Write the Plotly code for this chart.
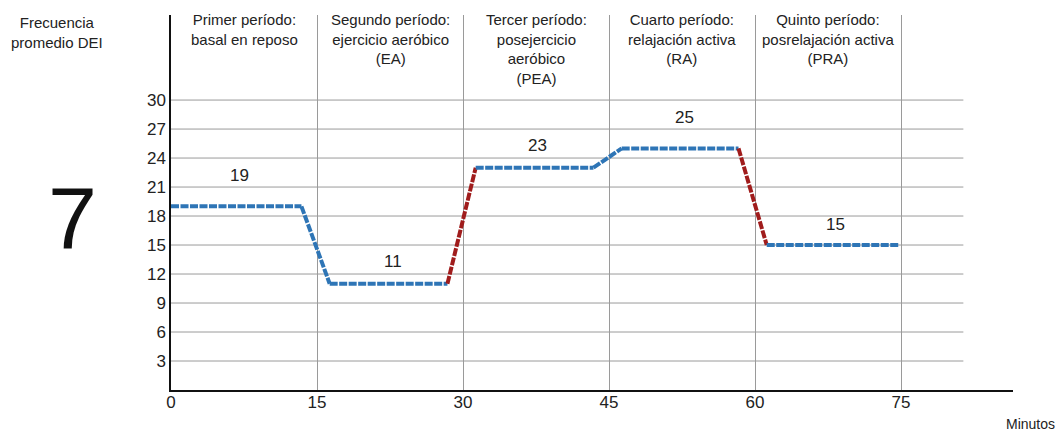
import plotly.graph_objects as go

# Data
tiempo = [0, 13.4, 16.3, 28.4, 31.3, 43.4, 46.3, 58.3, 61.2, 74.8]
frecuencia = [19, 19, 11, 11, 23, 23, 25, 25, 15, 15]
segmento_rojo = [False, False, False, True, False, False, False, True, False]

etiquetas_valor = ["19", "11", "23", "25", "15"]
etiquetas_x = [7.0, 22.8, 37.7, 52.8, 68.3]
etiquetas_y = [22.2, 13.3, 25.3, 28.2, 17.1]

periodos = [
    "Primer período:<br>basal en reposo",
    "Segundo período:<br>ejercicio aeróbico<br>(EA)",
    "Tercer período:<br>posejercicio<br>aeróbico<br>(PEA)",
    "Cuarto período:<br>relajación activa<br>(RA)",
    "Quinto período:<br>posrelajación activa<br>(PRA)",
]
periodo_centro = [7.5, 22.5, 37.5, 52.5, 67.5]

x_ticks = [0, 15, 30, 45, 60, 75]
y_ticks = [3, 6, 9, 12, 15, 18, 21, 24, 27, 30]

AZUL = "#2E75B6"
ROJO = "#A01C1C"
FONT = "Liberation Sans, Arial, sans-serif"

W, H = 1060, 432
ml, mr, mt, mb = 171, 47, 15, 42
pw, ph = W - ml - mr, H - mt - mb


def px_x(px):
    return (px - ml) / pw


def px_y(py):
    return (H - mb - py) / ph


fig = go.Figure()

for i in range(len(tiempo) - 1):
    fig.add_trace(go.Scatter(
        x=[tiempo[i], tiempo[i + 1]],
        y=[frecuencia[i], frecuencia[i + 1]],
        mode="lines",
        line=dict(color=ROJO if segmento_rojo[i] else AZUL, width=4, dash="8px,1.5px"),
        showlegend=False,
        hoverinfo="skip",
    ))

for t, xv, yv in zip(etiquetas_valor, etiquetas_x, etiquetas_y):
    fig.add_annotation(x=xv, y=yv, text=t, showarrow=False,
                       xanchor="center", yanchor="middle",
                       font=dict(size=17, color="#222", family=FONT))

for t, xv in zip(periodos, periodo_centro):
    fig.add_annotation(x=xv, xref="x", y=px_y(9), yref="paper",
                       xanchor="center", yanchor="top",
                       text=t, showarrow=False, align="center",
                       font=dict(size=15, color="#222", family=FONT))

# horizontal gridlines stop short of the axis end
for yv in y_ticks:
    fig.add_shape(type="line", x0=0, x1=81.4, y0=yv, y1=yv, xref="x", yref="y",
                  line=dict(color="#9a9a9a", width=1), layer="below")

fig.add_annotation(x=px_x(57), y=px_y(32), xref="paper", yref="paper",
                   xanchor="center", yanchor="middle",
                   text="Frecuencia<br>promedio DEI", showarrow=False, align="center",
                   font=dict(size=15, color="#222", family=FONT))
fig.add_annotation(x=px_x(72), y=px_y(218), xref="paper", yref="paper",
                   xanchor="center", yanchor="middle",
                   text="7", showarrow=False,
                   font=dict(size=88, color="#111", family=FONT))
fig.add_annotation(x=px_x(1030), y=px_y(424), xref="paper", yref="paper",
                   xanchor="center", yanchor="middle",
                   text="Minutos", showarrow=False,
                   font=dict(size=14, color="#222", family=FONT))

fig.update_layout(
    width=W, height=H,
    margin=dict(l=ml, r=mr, t=mt, b=mb),
    paper_bgcolor="white", plot_bgcolor="white",
    font=dict(family=FONT, color="#222"),
    xaxis=dict(range=[0, 86.5], tickvals=x_ticks, showgrid=True,
               gridcolor="#9a9a9a", gridwidth=1, zeroline=False,
               showline=True, linecolor="#111", linewidth=1.5,
               ticks="", tickfont=dict(size=17), ticklabelstandoff=-4,
               fixedrange=True),
    yaxis=dict(range=[0, 38.8], tickvals=y_ticks, showgrid=False, zeroline=False,
               showline=True, linecolor="#111", linewidth=1.5,
               ticks="", tickfont=dict(size=17), fixedrange=True),
)

fig.write_html("out.html", post_script="document.body.style.margin='0';",
               config={"displayModeBar": False})
